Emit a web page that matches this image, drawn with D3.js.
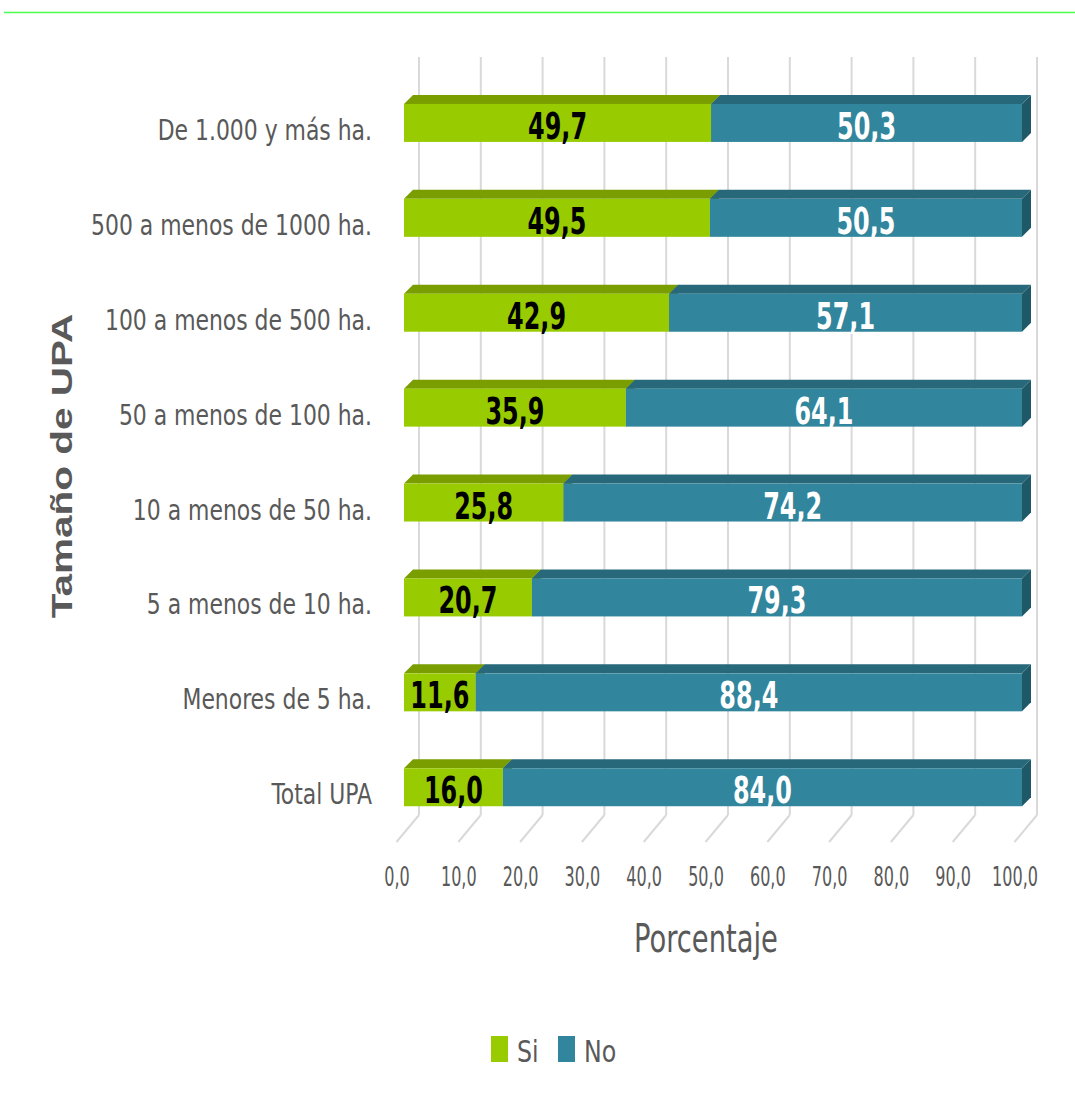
<!DOCTYPE html>
<html>
<head>
<meta charset="utf-8">
<script src="https://cdn.jsdelivr.net/npm/d3@7"></script>
<style>
  html, body { margin: 0; padding: 0; background: #fff; }
  svg { display: block; }
</style>
</head>
<body>
<script>
// ---- Data ----
const categories = ["De 1.000 y más ha.", "500 a menos de 1000 ha.", "100 a menos de 500 ha.", "50 a menos de 100 ha.", "10 a menos de 50 ha.", "5 a menos de 10 ha.", "Menores de 5 ha.", "Total UPA"];
const siValues = [49.7, 49.5, 42.9, 35.9, 25.8, 20.7, 11.6, 16.0];
const noValues = [50.3, 50.5, 57.1, 64.1, 74.2, 79.3, 88.4, 84.0];
const seriesNames = ["Si", "No"];
const tickValues = [0, 10, 20, 30, 40, 50, 60, 70, 80, 90, 100];
const xTitle = "Porcentaje";
const yTitle = "Tamaño de UPA";

// ---- Layout ----
const W = 1075, H = 1095;
const NARROW = "'Liberation Sans Narrow', 'Arial Narrow', 'DejaVu Sans Condensed', sans-serif";
const GREY = "#595959";
const colors = {
  Si: { front: "#99CC00", top: "#7A9E00", side: "#6B8A00", text: "#000" },
  No: { front: "#31859C", top: "#27697B", side: "#1F5866", text: "#fff" }
};
const depthX = 9, depthY = 9;

const svg = d3.select("body").append("svg").attr("width", W).attr("height", H);

// top green rule
svg.append("line").attr("x1", 4).attr("x2", W).attr("y1", 12.5).attr("y2", 12.5)
  .attr("stroke", "#4CFF4C").attr("stroke-width", 1.5);

// scales: front face of bars, back wall, front of floor
const xFront = d3.scaleLinear().domain([0, 100]).range([404, 1022]);
const xBack = d3.scaleLinear().domain([0, 100]).range([419, 1037]);
const xFloor = d3.scaleLinear().domain([0, 100]).range([396.5, 1014.5]);
const y = d3.scaleBand().domain(categories).range([75.5, 834.7]).paddingInner(0.6).paddingOuter(0.3);

const wallTop = 57, wallBottom = 815, floorFront = 842;

// back wall gridlines
const grid = svg.append("g");
grid.selectAll("line.v").data(tickValues).join("line").attr("class", "v")
  .attr("x1", d => xBack(d)).attr("x2", d => xBack(d))
  .attr("y1", wallTop).attr("y2", wallBottom)
  .attr("stroke", "#D9D9D9").attr("stroke-width", 2);
grid.selectAll("line.f").data(tickValues).join("line").attr("class", "f")
  .attr("x1", d => xBack(d)).attr("x2", d => xFloor(d))
  .attr("y1", wallBottom).attr("y2", floorFront)
  .attr("stroke", "#D9D9D9").attr("stroke-width", 2);

// segments
const segs = [];
categories.forEach((c, i) => {
  segs.push({ cat: c, s: "Si", x0: 0, x1: siValues[i], v: siValues[i] });
  segs.push({ cat: c, s: "No", x0: siValues[i], x1: siValues[i] + noValues[i], v: noValues[i] });
});
const bh = y.bandwidth();

const bars = svg.append("g");
// side faces
bars.selectAll("path.side").data(segs).join("path").attr("class", "side")
  .attr("d", d => {
    const x1 = xFront(d.x1), t = y(d.cat), b = t + bh;
    return `M${x1},${t} L${x1 + depthX},${t - depthY} L${x1 + depthX},${b - depthY} L${x1},${b} Z`;
  })
  .attr("fill", d => colors[d.s].side);
// top faces
bars.selectAll("path.top").data(segs).join("path").attr("class", "top")
  .attr("d", d => {
    const x0 = xFront(d.x0), x1 = xFront(d.x1), t = y(d.cat);
    return `M${x0},${t} L${x0 + depthX},${t - depthY} L${x1 + depthX},${t - depthY} L${x1},${t} Z`;
  })
  .attr("fill", d => colors[d.s].top);
// front faces
bars.selectAll("rect.front").data(segs).join("rect").attr("class", "front")
  .attr("x", d => xFront(d.x0)).attr("y", d => y(d.cat))
  .attr("width", d => xFront(d.x1) - xFront(d.x0)).attr("height", bh)
  .attr("fill", d => colors[d.s].front);

// data labels
const fmt = v => v.toFixed(1).replace(".", ",");
bars.selectAll("text.val").data(segs).join("text").attr("class", "val")
  .attr("transform", d => `translate(${(xFront(d.x0) + xFront(d.x1)) / 2},${y(d.cat) + 35}) scale(0.7,1)`)
  .attr("text-anchor", "middle")
  .attr("font-family", NARROW).attr("font-weight", "bold").attr("font-size", 38)
  .attr("fill", d => colors[d.s].text)
  .text(d => fmt(d.v));

// category labels
svg.append("g").selectAll("text").data(categories).join("text")
  .attr("transform", d => `translate(372,${y(d) + 36}) scale(0.87,1)`)
  .attr("text-anchor", "end")
  .attr("font-family", NARROW).attr("font-size", 28).attr("fill", GREY)
  .text(d => d);

// x axis tick labels
const axis = d3.axisBottom(xFloor).tickValues(tickValues).tickFormat(fmt).tickSize(0).tickPadding(0);
const ax = svg.append("g").attr("transform", "translate(0,886)").call(axis);
ax.select(".domain").remove();
ax.selectAll("text")
  .attr("y", 0).attr("dy", 0)
  .attr("transform", "scale(0.66,1)")
  .attr("font-family", NARROW).attr("font-size", 27).attr("fill", GREY);

// x title
svg.append("text").attr("transform", "translate(706,952) scale(0.78,1)")
  .attr("text-anchor", "middle").attr("font-family", NARROW).attr("font-size", 39).attr("fill", GREY)
  .text(xTitle);

// y title
svg.append("text").attr("transform", "translate(72,466) rotate(-90) scale(1.35,1)")
  .attr("text-anchor", "middle").attr("font-family", "'Liberation Sans', Arial, sans-serif")
  .attr("font-weight", "bold").attr("font-size", 30).attr("fill", GREY)
  .text(yTitle);

// legend
const legend = svg.append("g");
const legendX = [491, 558];
seriesNames.forEach((s, i) => {
  legend.append("rect").attr("x", legendX[i]).attr("y", 1036).attr("width", 17).attr("height", 26)
    .attr("fill", colors[s].front);
  legend.append("text").attr("transform", `translate(${legendX[i] + 26},1062) scale(0.85,1)`)
    .attr("font-family", NARROW).attr("font-size", 31).attr("fill", GREY).text(s);
});
</script>
</body>
</html>
